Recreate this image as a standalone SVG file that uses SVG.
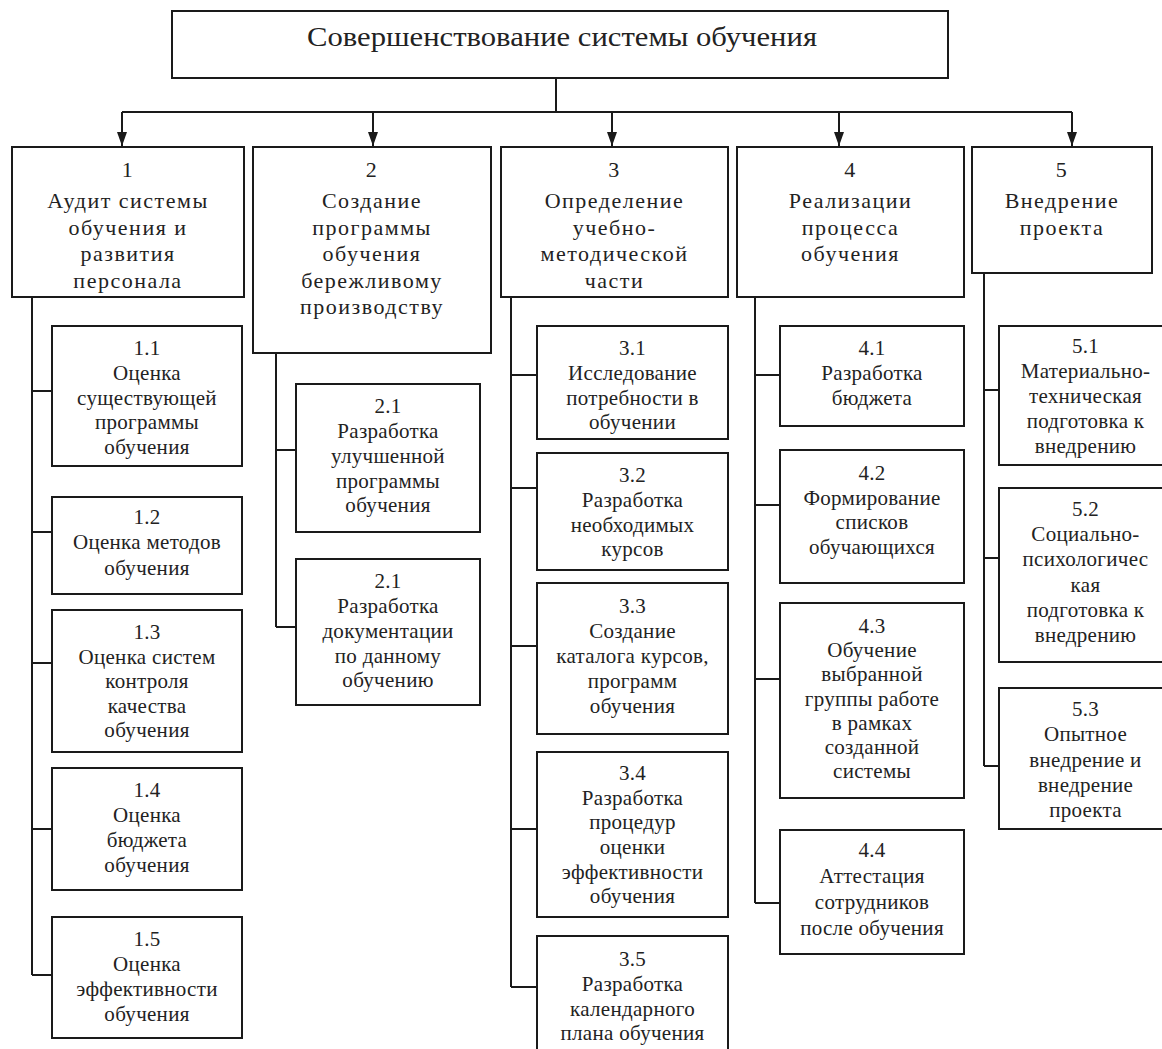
<svg xmlns="http://www.w3.org/2000/svg" width="1162" height="1049" viewBox="0 0 1162 1049">
<defs>
<style>
.box{fill:#fff;stroke:#1a1a1a;stroke-width:2}
.ln{fill:none;stroke:#1a1a1a;stroke-width:2}
text{font-family:"Liberation Serif","Times New Roman",serif;fill:#222;text-anchor:middle}
.t0{font-size:27px}
.t1{font-size:22px;letter-spacing:1.5px}
.t2{font-size:21px;letter-spacing:0.3px}
</style>
<marker id="arr" viewBox="0 0 10 14" refX="5" refY="14" markerWidth="10" markerHeight="14" markerUnits="userSpaceOnUse" orient="auto-start-reverse">
<path d="M0,0 L10,0 L5,14 z" fill="#1a1a1a" transform="rotate(0)"/>
</marker>
<marker id="arrd" viewBox="0 0 14 10" refX="14" refY="5" markerWidth="14" markerHeight="10" markerUnits="userSpaceOnUse" orient="auto">
<path d="M0,0 L14,5 L0,10 z" fill="#1a1a1a"/>
</marker>
</defs>
<rect width="1162" height="1049" fill="#fff"/>

<g id="connectors">
<path class="ln" d="M556 78 V112 M122 112 H1072"/>
<path class="ln" marker-end="url(#arrd)" d="M122 112 V146"/>
<path class="ln" marker-end="url(#arrd)" d="M373 112 V146"/>
<path class="ln" marker-end="url(#arrd)" d="M612 112 V146"/>
<path class="ln" marker-end="url(#arrd)" d="M839 112 V146"/>
<path class="ln" marker-end="url(#arrd)" d="M1072 112 V146"/>
<path class="ln" d="M32 297 V975 M32 391 H52 M32 532 H52 M32 663 H52 M32 829 H52 M32 975 H52"/>
<path class="ln" d="M276 353 V627 M276 450 H296 M276 627 H296"/>
<path class="ln" d="M511 297 V987 M511 375 H537 M511 488 H537 M511 646 H537 M511 829 H537 M511 987 H537"/>
<path class="ln" d="M755 297 V903 M755 375 H780 M755 505 H780 M755 679 H780 M755 903 H780"/>
<path class="ln" d="M984 273 V766 M984 390 H999 M984 558 H999 M984 766 H999"/>
</g>

<g id="root">
<rect class="box" x="172" y="11" width="776" height="67"/>
<text class="t0" x="562" y="46" textLength="510" lengthAdjust="spacingAndGlyphs">Совершенствование системы обучения</text>
</g>

<g id="n1">
<rect class="box" x="12" y="147" width="232" height="150"/>
<text class="t1"><tspan x="128" y="177">1</tspan><tspan x="128" y="208">Аудит системы</tspan><tspan x="128" y="234.5">обучения и</tspan><tspan x="128" y="261">развития</tspan><tspan x="128" y="287.5">персонала</tspan></text>
</g>
<g id="n2">
<rect class="box" x="253" y="147" width="238" height="206"/>
<text class="t1"><tspan x="372" y="177">2</tspan><tspan x="372" y="208">Создание</tspan><tspan x="372" y="234.5">программы</tspan><tspan x="372" y="261">обучения</tspan><tspan x="372" y="287.5">бережливому</tspan><tspan x="372" y="314">производству</tspan></text>
</g>
<g id="n3">
<rect class="box" x="501" y="147" width="227" height="150"/>
<text class="t1"><tspan x="614.5" y="177">3</tspan><tspan x="614.5" y="208">Определение</tspan><tspan x="614.5" y="234.5">учебно-</tspan><tspan x="614.5" y="261">методической</tspan><tspan x="614.5" y="287.5">части</tspan></text>
</g>
<g id="n4">
<rect class="box" x="737" y="147" width="227" height="150"/>
<text class="t1"><tspan x="850.5" y="177">4</tspan><tspan x="850.5" y="208">Реализации</tspan><tspan x="850.5" y="234.5">процесса</tspan><tspan x="850.5" y="261">обучения</tspan></text>
</g>
<g id="n5">
<rect class="box" x="972" y="147" width="180" height="126"/>
<text class="t1"><tspan x="1062" y="177">5</tspan><tspan x="1062" y="208">Внедрение</tspan><tspan x="1062" y="234.5">проекта</tspan></text>
</g>

<g id="n1_1">
<rect class="box" x="52" y="326" width="190" height="140"/>
<text class="t2"><tspan x="147" y="355">1.1</tspan><tspan x="147" y="380">Оценка</tspan><tspan x="147" y="405">существующей</tspan><tspan x="147" y="429">программы</tspan><tspan x="147" y="454">обучения</tspan></text>
</g>
<g id="n1_2">
<rect class="box" x="52" y="497" width="190" height="97"/>
<text class="t2"><tspan x="147" y="524">1.2</tspan><tspan x="147" y="549">Оценка методов</tspan><tspan x="147" y="575">обучения</tspan></text>
</g>
<g id="n1_3">
<rect class="box" x="52" y="610" width="190" height="142"/>
<text class="t2"><tspan x="147" y="639">1.3</tspan><tspan x="147" y="663.5">Оценка систем</tspan><tspan x="147" y="688">контроля</tspan><tspan x="147" y="712.5">качества</tspan><tspan x="147" y="737">обучения</tspan></text>
</g>
<g id="n1_4">
<rect class="box" x="52" y="768" width="190" height="122"/>
<text class="t2"><tspan x="147" y="797">1.4</tspan><tspan x="147" y="822">Оценка</tspan><tspan x="147" y="847">бюджета</tspan><tspan x="147" y="872">обучения</tspan></text>
</g>
<g id="n1_5">
<rect class="box" x="52" y="917" width="190" height="121"/>
<text class="t2"><tspan x="147" y="946">1.5</tspan><tspan x="147" y="971">Оценка</tspan><tspan x="147" y="996">эффективности</tspan><tspan x="147" y="1021">обучения</tspan></text>
</g>

<g id="n2_1a">
<rect class="box" x="296" y="384" width="184" height="148"/>
<text class="t2"><tspan x="388" y="413">2.1</tspan><tspan x="388" y="438">Разработка</tspan><tspan x="388" y="463">улучшенной</tspan><tspan x="388" y="487.5">программы</tspan><tspan x="388" y="512">обучения</tspan></text>
</g>
<g id="n2_1b">
<rect class="box" x="296" y="559" width="184" height="146"/>
<text class="t2"><tspan x="388" y="588">2.1</tspan><tspan x="388" y="613">Разработка</tspan><tspan x="388" y="638">документации</tspan><tspan x="388" y="662.5">по данному</tspan><tspan x="388" y="687">обучению</tspan></text>
</g>

<g id="n3_1">
<rect class="box" x="537" y="326" width="191" height="113"/>
<text class="t2"><tspan x="632.5" y="355">3.1</tspan><tspan x="632.5" y="380">Исследование</tspan><tspan x="632.5" y="405">потребности в</tspan><tspan x="632.5" y="429">обучении</tspan></text>
</g>
<g id="n3_2">
<rect class="box" x="537" y="453" width="191" height="117"/>
<text class="t2"><tspan x="632.5" y="482">3.2</tspan><tspan x="632.5" y="507">Разработка</tspan><tspan x="632.5" y="532">необходимых</tspan><tspan x="632.5" y="556">курсов</tspan></text>
</g>
<g id="n3_3">
<rect class="box" x="537" y="583" width="191" height="151"/>
<text class="t2"><tspan x="632.5" y="613">3.3</tspan><tspan x="632.5" y="638">Создание</tspan><tspan x="632.5" y="663">каталога курсов,</tspan><tspan x="632.5" y="688">программ</tspan><tspan x="632.5" y="713">обучения</tspan></text>
</g>
<g id="n3_4">
<rect class="box" x="537" y="752" width="191" height="165"/>
<text class="t2"><tspan x="632.5" y="780">3.4</tspan><tspan x="632.5" y="804.5">Разработка</tspan><tspan x="632.5" y="829">процедур</tspan><tspan x="632.5" y="854">оценки</tspan><tspan x="632.5" y="878.5">эффективности</tspan><tspan x="632.5" y="903">обучения</tspan></text>
</g>
<g id="n3_5">
<rect class="box" x="537" y="936" width="191" height="124"/>
<text class="t2"><tspan x="632.5" y="966">3.5</tspan><tspan x="632.5" y="991">Разработка</tspan><tspan x="632.5" y="1015.5">календарного</tspan><tspan x="632.5" y="1040">плана обучения</tspan></text>
</g>

<g id="n4_1">
<rect class="box" x="780" y="326" width="184" height="100"/>
<text class="t2"><tspan x="872" y="355">4.1</tspan><tspan x="872" y="380">Разработка</tspan><tspan x="872" y="405">бюджета</tspan></text>
</g>
<g id="n4_2">
<rect class="box" x="780" y="450" width="184" height="133"/>
<text class="t2"><tspan x="872" y="480">4.2</tspan><tspan x="872" y="504.5">Формирование</tspan><tspan x="872" y="529">списков</tspan><tspan x="872" y="553.5">обучающихся</tspan></text>
</g>
<g id="n4_3">
<rect class="box" x="780" y="603" width="184" height="195"/>
<text class="t2"><tspan x="872" y="633">4.3</tspan><tspan x="872" y="657">Обучение</tspan><tspan x="872" y="681">выбранной</tspan><tspan x="872" y="705.5">группы работе</tspan><tspan x="872" y="730">в рамках</tspan><tspan x="872" y="754">созданной</tspan><tspan x="872" y="778">системы</tspan></text>
</g>
<g id="n4_4">
<rect class="box" x="780" y="830" width="184" height="124"/>
<text class="t2"><tspan x="872" y="857">4.4</tspan><tspan x="872" y="883">Аттестация</tspan><tspan x="872" y="909">сотрудников</tspan><tspan x="872" y="935">после обучения</tspan></text>
</g>

<g id="n5_1">
<rect class="box" x="999" y="326" width="173" height="139"/>
<text class="t2"><tspan x="1085.5" y="353">5.1</tspan><tspan x="1085.5" y="378">Материально-</tspan><tspan x="1085.5" y="403">техническая</tspan><tspan x="1085.5" y="428">подготовка к</tspan><tspan x="1085.5" y="453">внедрению</tspan></text>
</g>
<g id="n5_2">
<rect class="box" x="999" y="488" width="173" height="174"/>
<text class="t2"><tspan x="1085.5" y="516">5.2</tspan><tspan x="1085.5" y="541">Социально-</tspan><tspan x="1085.5" y="566">психологичес</tspan><tspan x="1085.5" y="591.5">кая</tspan><tspan x="1085.5" y="617">подготовка к</tspan><tspan x="1085.5" y="642">внедрению</tspan></text>
</g>
<g id="n5_3">
<rect class="box" x="999" y="688" width="173" height="141"/>
<text class="t2"><tspan x="1085.5" y="716">5.3</tspan><tspan x="1085.5" y="741">Опытное</tspan><tspan x="1085.5" y="766.5">внедрение и</tspan><tspan x="1085.5" y="792">внедрение</tspan><tspan x="1085.5" y="817">проекта</tspan></text>
</g>
</svg>
